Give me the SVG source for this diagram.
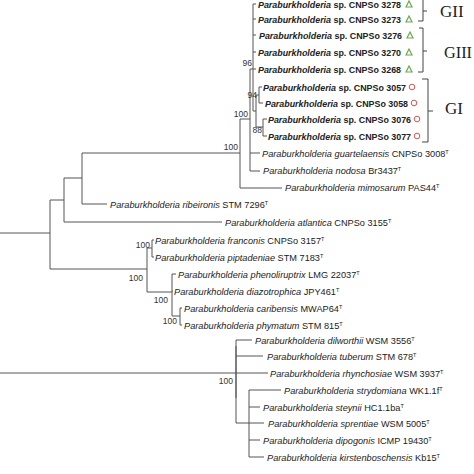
<svg xmlns="http://www.w3.org/2000/svg" width="474" height="474" viewBox="0 0 474 474">
<style>
.t{font-family:"Liberation Sans",Arial,sans-serif;font-size:9.2px;fill:#222}
.i{font-style:italic}
.b{font-weight:bold;font-size:8.9px}
.sup{font-size:5.5px}
.bs{font-family:"Liberation Sans",Arial,sans-serif;font-size:8.5px;fill:#333;text-anchor:end}
.g{font-family:"Liberation Serif","Times New Roman",serif;font-size:17px;fill:#222}
.ln{fill:none;stroke:#555;stroke-width:1}
.br{fill:none;stroke:#444;stroke-width:1}
.tri{fill:none;stroke:#6aa84f;stroke-width:1.2}
.cir{fill:none;stroke:#d9534f;stroke-width:1}
</style>
<rect width="474" height="474" fill="#fff"/>
<g id="connectors">
<path class="ln" d="M0,233H50 M50,200V269 M50,200H64 M50,269H147 M64,178V222 M64,222H222 M64,178H82 M82,153V204 M82,204H107 M82,153H240 M240,119V188 M240,188H282 M240,119H250 M250,69V171 M250,171H260 M250,153H260 M250,69H253 M253,4V111 M253,4H256 M253,19H256 M253,35H256 M253,52H256 M253,69H256 M253,111H256 M256,95V127 M256,95H259 M259,87V103 M259,87H262 M259,103H263 M256,127H263 M263,119V136 M263,119H267 M263,136H267"/>
<path class="ln" d="M147,248V292 M147,248H152 M152,240V257 M152,240H154 M152,257H154 M147,292H172 M172,274V316 M172,274H176 M172,291H173 M172,316H180 M180,308V325 M180,308H182 M180,325H182"/>
<path class="ln" d="M0,373H268 M236,340V423 M236,340H252 M236,356H263 M236,423H249 M249,390V457 M249,390H281 M249,407H260 M249,423H264 M249,440H260 M249,457H264"/>
<path class="ln" stroke-width="2" d="M236,346V398"/>
</g>
<g id="bootstrap">
<text class="bs" x="238" y="150">100</text>
<text class="bs" x="248" y="117">100</text>
<text class="bs" x="252" y="66">96</text>
<text class="bs" x="257" y="98">94</text>
<text class="bs" x="262" y="133">88</text>
<text class="bs" x="150" y="248">100</text>
<text class="bs" x="143" y="281">100</text>
<text class="bs" x="168" y="303">100</text>
<text class="bs" x="177" y="324">100</text>
<text class="bs" x="233" y="384">100</text>
</g>
<g id="gii">
<text class="t b" x="258" y="7.5"><tspan class="i">Paraburkholderia</tspan> sp. CNPSo 3278</text>
<polygon class="tri" points="406,7 409,1 412,7"/>
<text class="t b" x="258" y="22.5"><tspan class="i">Paraburkholderia</tspan> sp. CNPSo 3273</text>
<polygon class="tri" points="406,22 409,16 412,22"/>
<path class="br" d="M418,-1H423V21H418 M423,11H427"/>
<text class="g" x="440" y="17">GII</text>
</g>
<g id="giii">
<text class="t b" x="259" y="38.5"><tspan class="i">Paraburkholderia</tspan> sp. CNPSo 3276</text>
<polygon class="tri" points="407,38 410,32 413,38"/>
<text class="t b" x="258" y="55.5"><tspan class="i">Paraburkholderia</tspan> sp. CNPSo 3270</text>
<polygon class="tri" points="406,55 409,49 412,55"/>
<text class="t b" x="258" y="72.5"><tspan class="i">Paraburkholderia</tspan> sp. CNPSo 3268</text>
<polygon class="tri" points="406,72 409,66 412,72"/>
<path class="br" d="M419,28H423V72H418 M423,51H427"/>
<text class="g" x="444" y="58" textLength="28" lengthAdjust="spacingAndGlyphs">GIII</text>
</g>
<g id="gi">
<text class="t b" x="263" y="90.5"><tspan class="i">Paraburkholderia</tspan> sp. CNPSo 3057</text>
<circle class="cir" cx="412" cy="87" r="2.8"/>
<text class="t b" x="265" y="106.5"><tspan class="i">Paraburkholderia</tspan> sp. CNPSo 3058</text>
<circle class="cir" cx="414" cy="103" r="2.8"/>
<text class="t b" x="268" y="122.5"><tspan class="i">Paraburkholderia</tspan> sp. CNPSo 3076</text>
<circle class="cir" cx="417" cy="119" r="2.8"/>
<text class="t b" x="268" y="139.5"><tspan class="i">Paraburkholderia</tspan> sp. CNPSo 3077</text>
<circle class="cir" cx="417" cy="136" r="2.8"/>
<path class="br" d="M422,79H428V142H422 M428,111H433"/>
<text class="g" x="445" y="114">GI</text>
</g>
<g id="guartelaensis"><text class="t" x="262" y="156.5"><tspan class="i">Paraburkholderia guartelaensis</tspan> CNPSo 3008<tspan class="sup" dy="-3">T</tspan></text></g>
<g id="nodosa"><text class="t" x="263" y="173.5"><tspan class="i">Paraburkholderia nodosa</tspan> Br3437<tspan class="sup" dy="-3">T</tspan></text></g>
<g id="mimosarum"><text class="t" x="285" y="190.5"><tspan class="i">Paraburkholderia mimosarum</tspan> PAS44<tspan class="sup" dy="-3">T</tspan></text></g>
<g id="ribeironis"><text class="t" x="110" y="207.5"><tspan class="i">Paraburkholderia ribeironis</tspan> STM 7296<tspan class="sup" dy="-3">T</tspan></text></g>
<g id="atlantica"><text class="t" x="225" y="225.5"><tspan class="i">Paraburkholderia atlantica</tspan> CNPSo 3155<tspan class="sup" dy="-3">T</tspan></text></g>
<g id="franconis"><text class="t" x="155" y="243.5"><tspan class="i">Paraburkholderia franconis</tspan> CNPSo 3157<tspan class="sup" dy="-3">T</tspan></text></g>
<g id="piptadeniae"><text class="t" x="155" y="260.5"><tspan class="i">Paraburkholderia piptadeniae</tspan> STM 7183<tspan class="sup" dy="-3">T</tspan></text></g>
<g id="phenoliruptrix"><text class="t" x="178" y="277.5"><tspan class="i">Paraburkholderia phenoliruptrix</tspan> LMG 22037<tspan class="sup" dy="-3">T</tspan></text></g>
<g id="diazotrophica"><text class="t" x="174" y="294.5"><tspan class="i">Paraburkholderia diazotrophica</tspan> JPY461<tspan class="sup" dy="-3">T</tspan></text></g>
<g id="caribensis"><text class="t" x="184" y="311.5"><tspan class="i">Paraburkholderia caribensis</tspan> MWAP64<tspan class="sup" dy="-3">T</tspan></text></g>
<g id="phymatum"><text class="t" x="184" y="328.5"><tspan class="i">Paraburkholderia phymatum</tspan> STM 815<tspan class="sup" dy="-3">T</tspan></text></g>
<g id="dilworthii"><text class="t" x="255" y="343.5"><tspan class="i">Paraburkholderia dilworthii</tspan> WSM 3556<tspan class="sup" dy="-3">T</tspan></text></g>
<g id="tuberum"><text class="t" x="267" y="359.5"><tspan class="i">Paraburkholderia tuberum</tspan> STM 678<tspan class="sup" dy="-3">T</tspan></text></g>
<g id="rhynchosiae"><text class="t" x="270" y="376.5"><tspan class="i">Paraburkholderia rhynchosiae</tspan> WSM 3937<tspan class="sup" dy="-3">T</tspan></text></g>
<g id="strydomiana"><text class="t" x="284" y="393.5"><tspan class="i">Paraburkholderia strydomiana</tspan> WK1.1f<tspan class="sup" dy="-3">T</tspan></text></g>
<g id="steynii"><text class="t" x="263" y="410.5"><tspan class="i">Paraburkholderia steynii</tspan> HC1.1ba<tspan class="sup" dy="-3">T</tspan></text></g>
<g id="sprentiae"><text class="t" x="268" y="426.5"><tspan class="i">Paraburkholderia sprentiae</tspan> WSM 5005<tspan class="sup" dy="-3">T</tspan></text></g>
<g id="dipogonis"><text class="t" x="263" y="443.5"><tspan class="i">Paraburkholderia dipogonis</tspan>  ICMP 19430<tspan class="sup" dy="-3">T</tspan></text></g>
<g id="kirstenboschensis"><text class="t" x="267" y="460.5"><tspan class="i">Paraburkholderia kirstenboschensis</tspan> Kb15<tspan class="sup" dy="-3">T</tspan></text></g>
</svg>
